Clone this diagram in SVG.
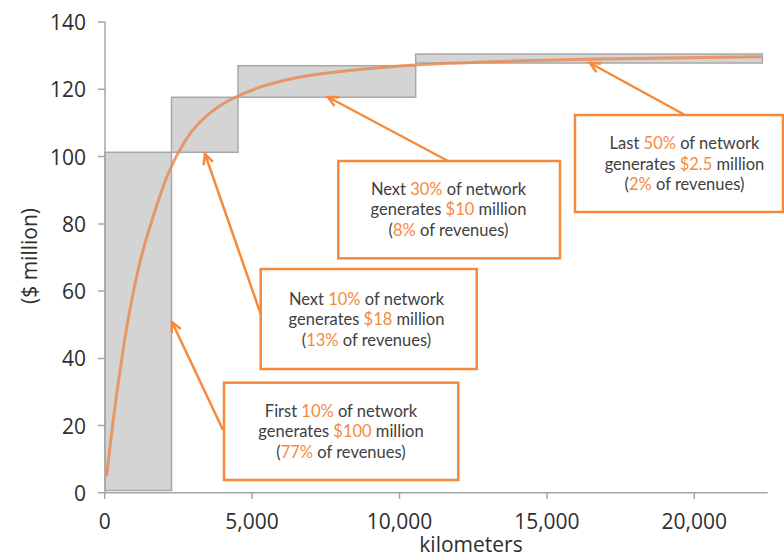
<svg xmlns="http://www.w3.org/2000/svg" width="784" height="559" viewBox="0 0 784 559">
<style>
.axis{stroke:#a6a6a6;stroke-width:1.5;fill:none}
.bar{fill:#d4d4d4;stroke:#a8a8a8;stroke-width:1.5}
.tick{font-family:"Open Sans","Liberation Sans",sans-serif;font-size:21px;fill:#2e2e2e}
.box{fill:#fff;stroke:#f58a3c;stroke-width:2.5}
.bt{font-family:Lato,"Liberation Sans",sans-serif;font-size:16.5px;fill:#404040;text-anchor:middle}
.hl{fill:#f58a3c}
.arrow{stroke:#f58a3c;stroke-width:2.5;fill:none;marker-end:url(#chev)}
</style>
<defs>
<marker id="chev" markerUnits="userSpaceOnUse" markerWidth="14" markerHeight="14" refX="11" refY="6" orient="auto">
<path d="M1,1 L11,6 L1,11" fill="none" stroke="#f58a3c" stroke-width="2.5"/>
</marker>
</defs>
<rect width="784" height="559" fill="#fff"/>
<g id="bars">
<rect class="bar" x="105" y="152.3" width="66.5" height="338.2"/>
<rect class="bar" x="171.5" y="97.3" width="66.5" height="55"/>
<rect class="bar" x="238" y="65.7" width="177.7" height="31.6"/>
<rect class="bar" x="415.7" y="54" width="346.6" height="9"/>
</g>
<g id="axes">
<path class="axis" d="M105,22 V492.7 M98,22 H105 M98,89.3 H105 M98,156.6 H105 M98,223.9 H105 M98,291.1 H105 M98,358.4 H105 M98,425.6 H105 M98,492.7 H767.7 M104.7,492.7 V499 M252.1,492.7 V499 M399.5,492.7 V499 M546.9,492.7 V499 M694.3,492.7 V499"/>
<g class="tick" text-anchor="end">
<text x="86" y="30">140</text>
<text x="86" y="97.3">120</text>
<text x="86" y="164.6">100</text>
<text x="86" y="231.9">80</text>
<text x="86" y="299.1">60</text>
<text x="86" y="366.4">40</text>
<text x="86" y="433.6">20</text>
<text x="86" y="500.7">0</text>
</g>
<g class="tick" text-anchor="middle">
<text x="104.7" y="528.5">0</text>
<text x="252.1" y="528.5">5,000</text>
<text x="399.5" y="528.5">10,000</text>
<text x="546.9" y="528.5">15,000</text>
<text x="694.3" y="528.5">20,000</text>
<text x="471" y="552">kilometers</text>
<text transform="translate(37,256) rotate(-90)">($ million)</text>
</g>
</g>
<g id="curve">
<path d="M106.7,475 C108.47,460 110.07,445.33 112,430 C113.93,414.67 115.63,401.33 118.3,383 C120.97,364.67 124.38,340.17 128,320 C131.62,299.83 135.83,279.17 140,262 C144.17,244.83 148.33,231.67 153,217 C157.67,202.33 162.67,186.67 168,174 C173.33,161.33 179.67,149.67 185,141 C190.33,132.33 194.5,127.67 200,122 C205.5,116.33 211.67,111.33 218,107 C224.33,102.67 230.17,99.58 238,96 C245.83,92.42 254.67,88.67 265,85.5 C275.33,82.33 286.67,79.42 300,77 C313.33,74.58 325.83,73 345,71 C364.17,69 389.17,66.58 415,65 C440.83,63.42 469.17,62.5 500,61.5 C530.83,60.5 556.67,59.8 600,59 C643.33,58.2 706.7,57.47 760,56.7" fill="none" stroke="#e98c55" stroke-opacity="0.85" stroke-width="3" stroke-linecap="round"/>
</g>
<g id="connectors">
<path class="arrow" d="M223,430 L172,322"/>
<path class="arrow" d="M260.7,314 L205,154"/>
<path class="arrow" d="M448,161 L328,97"/>
<path class="arrow" d="M685,115 L590,63"/>
</g>
<g id="boxA">
<rect class="box" x="224" y="382.7" width="234.3" height="97.3"/>
<text class="bt" x="341" y="417">First <tspan class="hl">10%</tspan> of network</text>
<text class="bt" x="341" y="437">generates <tspan class="hl">$100</tspan> million</text>
<text class="bt" x="341" y="457.5">(<tspan class="hl">77%</tspan> of revenues)</text>
</g>
<g id="boxB">
<rect class="box" x="260.7" y="269" width="216" height="100"/>
<text class="bt" x="366.5" y="305">Next <tspan class="hl">10%</tspan> of network</text>
<text class="bt" x="366.5" y="325">generates <tspan class="hl">$18</tspan> million</text>
<text class="bt" x="366.5" y="345.5">(<tspan class="hl">13%</tspan> of revenues)</text>
</g>
<g id="boxC">
<rect class="box" x="338.3" y="161" width="221.7" height="97.3"/>
<text class="bt" x="448.5" y="195">Next <tspan class="hl">30%</tspan> of network</text>
<text class="bt" x="448.5" y="215">generates <tspan class="hl">$10</tspan> million</text>
<text class="bt" x="448.5" y="235.5">(<tspan class="hl">8%</tspan> of revenues)</text>
</g>
<g id="boxD">
<rect class="box" x="575" y="115" width="208" height="97"/>
<text class="bt" x="684.5" y="149">Last <tspan class="hl">50%</tspan> of network</text>
<text class="bt" x="684.5" y="169.5">generates <tspan class="hl">$2.5</tspan> million</text>
<text class="bt" x="684.5" y="190">(<tspan class="hl">2%</tspan> of revenues)</text>
</g>
</svg>
